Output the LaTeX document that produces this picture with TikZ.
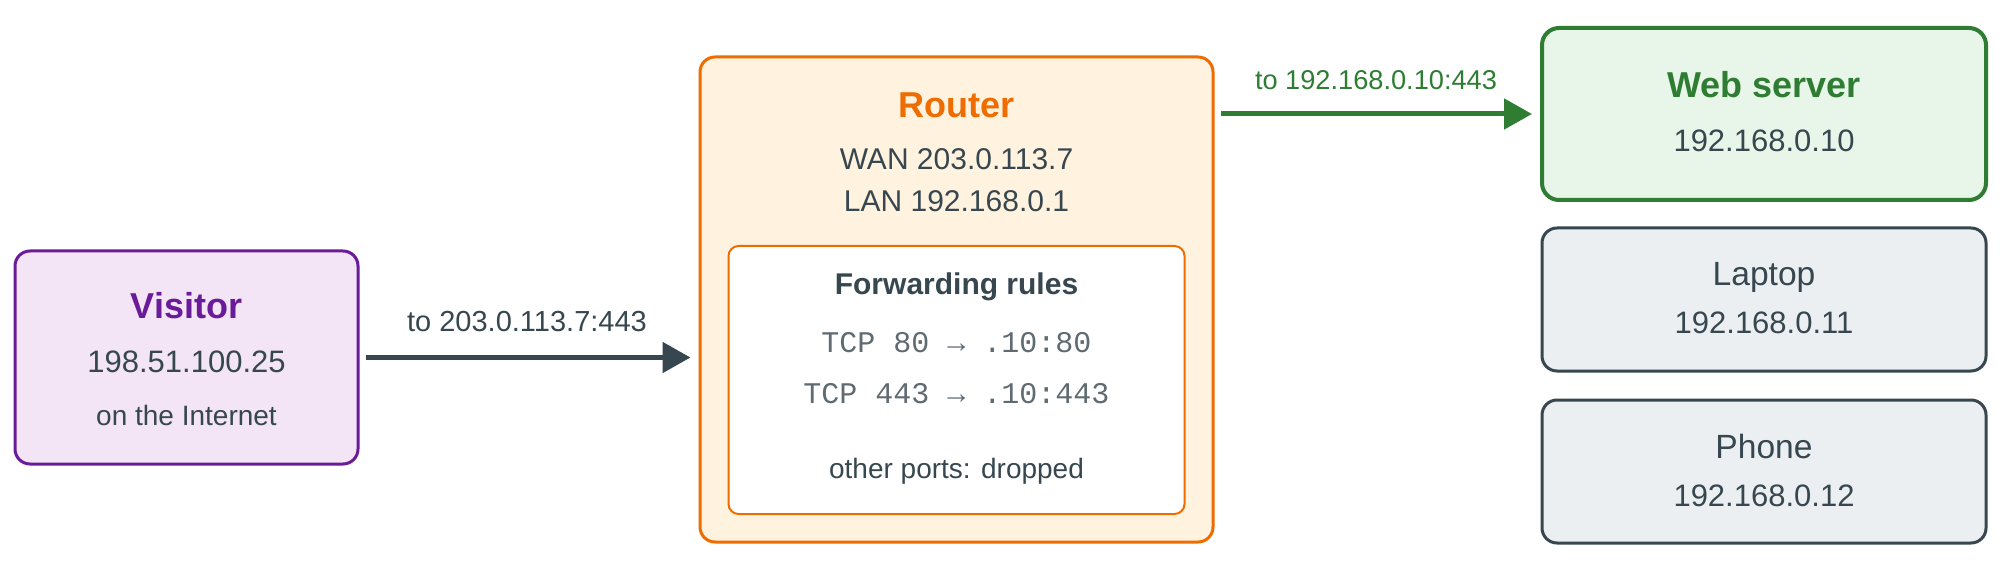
\documentclass[tikz,border=0pt]{standalone}
\usepackage{fontspec}
\setmainfont{Liberation Sans}
\newfontfamily\monofont{Liberation Mono}
\usetikzlibrary{arrows.meta}
\definecolor{ink}{HTML}{37474F}
\definecolor{monoink}{HTML}{5F6A71}
\definecolor{vioD}{HTML}{6A1B9A}
\definecolor{vioL}{HTML}{F3E5F5}
\definecolor{orD}{HTML}{EF6C00}
\definecolor{orL}{HTML}{FFF3E0}
\definecolor{grD}{HTML}{2E7D32}
\definecolor{grL}{HTML}{E8F5E9}
\definecolor{gyL}{HTML}{ECEFF1}
\tikzset{
  box/.style={draw, rounded corners=7.5pt, line width=1.5pt, inner sep=0pt},
  ttl/.style={anchor=base, font=\fontsize{18}{20}\selectfont\bfseries},
  body/.style={anchor=base, text=ink, font=\fontsize{15.5}{18}\selectfont},
  bodyb/.style={anchor=base, text=ink, font=\fontsize{15}{18}\selectfont},
  hostname/.style={anchor=base, text=ink, font=\fontsize{16.8}{19}\selectfont},
  small/.style={anchor=base, text=ink, font=\fontsize{14}{16}\selectfont},
  lbl/.style={anchor=base, font=\fontsize{14.5}{17}\selectfont},
  mono/.style={anchor=base, text=monoink, font=\monofont\fontsize{15}{17}\selectfont},
  flow/.style={-{Triangle[length=14pt,width=15pt]}, line width=2.5pt},
}
\begin{document}
\begin{tikzpicture}[x=0.5pt,y=-0.5pt]
\useasboundingbox[fill=white] (0,0) rectangle (2000,571);

% Visitor
\node[box, draw=vioD, fill=vioL, minimum width=171.5pt, minimum height=106.5pt] (visitor) at (186.5,357.5) {};
\node[ttl, text=vioD] (visT) at (186.5,319) {Visitor};
\node[body] (visIP) at (186.5,372) {198.51.100.25};
\node[small] (visNet) at (186.5,425.5) {on the Internet};

% Router
\node[box, draw=orD, fill=orL, minimum width=256.5pt, minimum height=242.5pt] (router) at (956.5,299.5) {};
\node[ttl, text=orD] (rtT) at (956.5,118) {Router};
\node[bodyb] (rtWAN) at (956.5,170) {WAN 203.0.113.7};
\node[bodyb] (rtLAN) at (956.5,211.5) {LAN 192.168.0.1};
\node[draw=orD, fill=white, rounded corners=5pt, line width=1pt, inner sep=0pt,
      minimum width=228pt, minimum height=134pt] (rules) at (956.5,380) {};
\node[anchor=base, text=ink, font=\fontsize{15}{17}\selectfont\bfseries] (rulesT) at (956.5,295) {Forwarding rules};
\node[mono] (r80) at (956.5,352.5) {TCP 80 → .10:80};
\node[mono] (r443) at (956.5,403) {TCP 443 → .10:443};
\node[small] (rOther) at (956.5,478.5) {other ports: dropped};

% Hosts
\node[box, draw=grD, fill=grL, line width=2pt, rounded corners=8.5pt, minimum width=222pt, minimum height=86pt] (web) at (1764,114) {};
\node[ttl, text=grD] (webT) at (1764,98) {Web server};
\node[body] (webIP) at (1764,152) {192.168.0.10};

\node[box, draw=ink, fill=gyL, minimum width=222pt, minimum height=71.5pt] (laptop) at (1764,299.5) {};
\node[hostname] (lapT) at (1764,286) {Laptop};
\node[body] (lapIP) at (1764,334) {192.168.0.11};

\node[box, draw=ink, fill=gyL, minimum width=222pt, minimum height=71.5pt] (phone) at (1764,471.5) {};
\node[hostname] (phT) at (1764,458) {Phone};
\node[body] (phIP) at (1764,506) {192.168.0.12};

% Connectors
\draw[flow, draw=ink, fill=ink, shorten <=3pt, shorten >=4pt] (visitor.east) -- (visitor.east -| router.west);
\node[lbl, text=ink] (l1) at (527,332) {to 203.0.113.7:443};
\draw[flow, draw=grD, fill=grD, shorten <=3pt, shorten >=4pt] (web.west -| router.east) -- (web.west);
\node[lbl, text=grD, font=\fontsize{13.6}{16}\selectfont] (l2) at (1376,90) {to 192.168.0.10:443};
\end{tikzpicture}
\end{document}
